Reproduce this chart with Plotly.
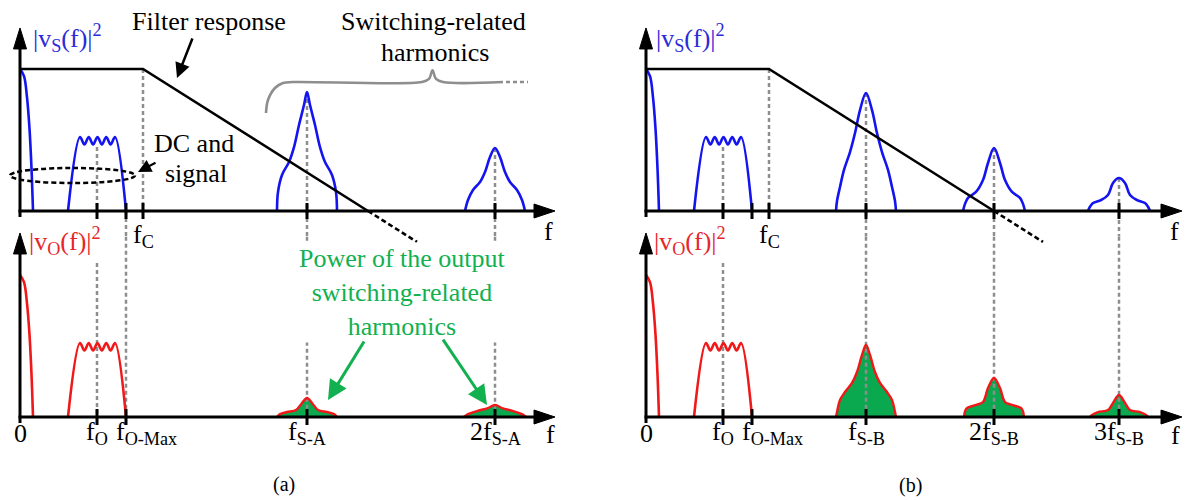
import plotly.graph_objects as go

# ---------------------------------------------------------------------------
# DATA  (schematic frequency units, normalised power |v(f)|^2)
# ---------------------------------------------------------------------------
# DC component (same in all four spectra)
dc_f = [0, 4, 7, 9.5, 11.5, 13]
dc_amp = [1.0, 0.95, 0.80, 0.58, 0.30, 0.0]

# signal band around f_O (same in all four spectra)
band_f = [48, 60, 64.4, 68.75, 73.1, 77.5, 81.9, 86.25, 90.6, 95, 106]
band_amp = [0, 0.521, 0.468, 0.521, 0.468, 0.521, 0.468, 0.521, 0.468, 0.521, 0]

# filter response (solid part and dashed extension)
filter_f = [0, 123, 348]
filter_amp = [1.0, 1.0, 0.0]
filter_ext_f = [348, 397]
filter_ext_amp = [0.0, -0.218]

# (a) input switching harmonics |vS(f)|^2
sA1_f = [257, 258, 262, 269, 274, 279, 284, 287, 290, 295, 300, 305, 312, 316, 317]
sA1_amp = [0, 0.134, 0.254, 0.345, 0.45, 0.606, 0.746, 0.838, 0.746, 0.606, 0.45, 0.345, 0.254, 0.134, 0]
sA2_f = [445, 448, 453, 460, 465, 470, 475, 480, 485, 490, 497, 502, 505]
sA2_amp = [0, 0.077, 0.148, 0.204, 0.275, 0.38, 0.444, 0.38, 0.275, 0.204, 0.148, 0.077, 0]
# (a) output switching harmonics |vO(f)|^2
oA1_f = [257, 260, 267, 276, 282, 287, 292, 298, 307, 314, 317]
oA1_amp = [0, 0.02, 0.035, 0.049, 0.099, 0.134, 0.099, 0.049, 0.035, 0.02, 0]
oA2_f = [444, 448, 457, 468, 475, 482, 493, 502, 506]
oA2_amp = [0, 0.02, 0.042, 0.063, 0.085, 0.063, 0.042, 0.02, 0]

# (b) input switching harmonics |vS(f)|^2
sB1_f = [190, 191, 194, 198, 204, 209, 214, 220, 226, 231, 236, 242, 246, 249, 250]
sB1_amp = [0, 0.07, 0.169, 0.289, 0.415, 0.549, 0.711, 0.831, 0.711, 0.549, 0.415, 0.289, 0.169, 0.07, 0]
sB2_f = [317, 319, 322, 330, 337, 342, 348, 354, 359, 366, 374, 377, 379]
sB2_amp = [0, 0.05, 0.092, 0.134, 0.218, 0.338, 0.444, 0.338, 0.218, 0.134, 0.092, 0.05, 0]
sB3_f = [442, 444, 447, 455, 462, 467, 473, 479, 484, 491, 499, 502, 504]
sB3_amp = [0, 0.03, 0.056, 0.077, 0.113, 0.197, 0.232, 0.197, 0.113, 0.077, 0.056, 0.03, 0]
# (b) output switching harmonics |vO(f)|^2
oB1_f = [190, 191, 194, 199, 206, 211, 216, 220, 224, 229, 234, 241, 246, 249, 250]
oB1_amp = [0, 0.035, 0.12, 0.176, 0.24, 0.317, 0.437, 0.507, 0.437, 0.317, 0.24, 0.176, 0.12, 0.035, 0]
oB2_f = [318, 319, 321, 330, 337, 342, 348, 354, 359, 366, 375, 377, 378]
oB2_amp = [0, 0.04, 0.063, 0.085, 0.106, 0.204, 0.275, 0.204, 0.106, 0.085, 0.063, 0.04, 0]
oB3_f = [444, 446, 452, 462, 467, 473, 479, 484, 494, 500, 502]
oB3_amp = [0, 0.015, 0.035, 0.049, 0.099, 0.155, 0.099, 0.049, 0.035, 0.015, 0]

# tick positions
ticks_top_a = [77, 106, 123, 287, 475]
ticks_bot_a = [77, 106, 287, 475]
ticks_top_b = [77, 106, 123, 220, 348, 473]
ticks_bot_b = [77, 106, 220, 348, 473]

# tick labels: (position, text)
labels_top_a = [(123, "f<sub>C</sub>")]
labels_bot_a = [(0, "0"), (77, "f<sub>O</sub>"), (106, "f<sub>O-Max</sub>"),
                (287, "f<sub>S-A</sub>"), (475, "2f<sub>S-A</sub>")]
labels_top_b = [(123, "f<sub>C</sub>")]
labels_bot_b = [(0, "0"), (77, "f<sub>O</sub>"), (106, "f<sub>O-Max</sub>"),
                (220, "f<sub>S-B</sub>"), (348, "2f<sub>S-B</sub>"), (473, "3f<sub>S-B</sub>")]

# gray dashed guides: (f, from, to); joins meet the other panel's guide
TOP_JOIN, BOTTOM_JOIN = -0.18, 1.27
guides_top_a = [(77, 0.45, 0), (123, 1.0, 0), (106, 0, TOP_JOIN), (287, 0.838, TOP_JOIN), (475, 0.444, TOP_JOIN)]
guides_bot_a = [(77, 1.085, 0), (106, BOTTOM_JOIN, 0), (287, BOTTOM_JOIN, 0), (475, BOTTOM_JOIN, 0)]
guides_top_b = [(77, 0.45, 0), (123, 1.0, 0), (220, 0.831, TOP_JOIN), (348, 0.444, TOP_JOIN), (473, 0.232, TOP_JOIN)]
guides_bot_b = [(77, 1.085, 0), (220, BOTTOM_JOIN, 0), (348, BOTTOM_JOIN, 0), (473, BOTTOM_JOIN, 0)]

# brace over the switching harmonics (panel a)
brace_f = [246, 248, 255, 263, 273, 402, 409, 412.5, 416, 423, 483]
brace_amp = [0.69, 0.782, 0.866, 0.901, 0.908, 0.908, 0.93, 0.99, 0.93, 0.908, 0.908]
brace_dash_f = [486, 508]
brace_dash_amp = [0.908, 0.908]

# dashed ellipse "DC and signal"
ellipse_f = [-10, 115]
ellipse_amp = [0.197, 0.303]

# ---------------------------------------------------------------------------
# STYLE
# ---------------------------------------------------------------------------
FONT = "Liberation Serif"
BLUE = "#1414f0"
BLUE_TXT = "#2b2bd9"
RED = "#f01818"
RED_TXT = "#e8262a"
GREEN = "#0aa84f"
GREEN_TXT = "#12b04f"
GRAY = "#8e8e8e"
BLACK = "#000000"
AMP_PER_PX = 1 / 142.0

PANELS = {"TL": ("x", "y"), "TR": ("x2", "y"), "BL": ("x", "y2"), "BR": ("x2", "y2")}
X_END = {"TL": 535, "BL": 535, "TR": 536, "BR": 536}
Y_TIP = {"TL": 1.289, "TR": 1.289, "BL": 1.296, "BR": 1.296}

fig = go.Figure()


def add(panel, **kw):
    xa, ya = PANELS[panel]
    fig.add_trace(go.Scatter(xaxis=xa, yaxis=ya, hoverinfo="skip", showlegend=False, **kw))


def line(panel, xs, ys, color, width, dash="solid", shape="linear"):
    add(panel, x=xs, y=ys, mode="lines",
        line=dict(color=color, width=width, dash=dash, shape=shape, smoothing=1.0))


# green filled output harmonics (fill only, outline later)
for panel, fs, am in [("BL", oA1_f, oA1_amp), ("BL", oA2_f, oA2_amp),
                      ("BR", oB1_f, oB1_amp), ("BR", oB2_f, oB2_amp), ("BR", oB3_f, oB3_amp)]:
    add(panel, x=fs, y=am, mode="lines", fill="toself", fillcolor=GREEN,
        line=dict(width=0, shape="spline", color=GREEN))

# gray dashed guides
for panel, guides in [("TL", guides_top_a), ("BL", guides_bot_a),
                      ("TR", guides_top_b), ("BR", guides_bot_b)]:
    xs, ys = [], []
    for f, a0, a1 in guides:
        xs += [f, f, None]
        ys += [a0, a1, None]
    line(panel, xs, ys, GRAY, 2.5, dash="4px,3px")

# low-frequency content
for panel, col in [("TL", BLUE), ("TR", BLUE), ("BL", RED), ("BR", RED)]:
    line(panel, dc_f, dc_amp, col, 2.6, shape="spline")
    line(panel, band_f, band_amp, col, 2.6, shape="spline")

# input harmonics
for panel, fs, am in [("TL", sA1_f, sA1_amp), ("TL", sA2_f, sA2_amp),
                      ("TR", sB1_f, sB1_amp), ("TR", sB2_f, sB2_amp), ("TR", sB3_f, sB3_amp)]:
    line(panel, fs, am, BLUE, 2.6, shape="spline")

# output harmonics outline
for panel, fs, am in [("BL", oA1_f, oA1_amp), ("BL", oA2_f, oA2_amp),
                      ("BR", oB1_f, oB1_amp), ("BR", oB2_f, oB2_amp), ("BR", oB3_f, oB3_amp)]:
    line(panel, fs, am, RED, 2.4, shape="spline")

# filter response
for panel in ["TL", "TR"]:
    line(panel, filter_f, filter_amp, BLACK, 2.6)
    line(panel, filter_ext_f, filter_ext_amp, BLACK, 2.6, dash="5px,3px")

# brace
line("TL", brace_f, brace_amp, GRAY, 2.6, shape="spline")
line("TL", brace_dash_f, brace_dash_amp, GRAY, 2.6, dash="4px,3px")

# axes with arrow heads and ticks
ARROW_LEN, ARROW_HALF = 21, 7  # px
for panel in PANELS:
    xe, yt = X_END[panel], Y_TIP[panel]
    line(panel, [-1.5, xe - ARROW_LEN + 2], [0, 0], BLACK, 3)
    line(panel, [0, 0], [-6 * AMP_PER_PX, yt - (ARROW_LEN - 2) * AMP_PER_PX], BLACK, 3)
    add(panel, x=[xe - ARROW_LEN, xe, xe - ARROW_LEN, xe - ARROW_LEN],
        y=[ARROW_HALF * AMP_PER_PX, 0, -ARROW_HALF * AMP_PER_PX, ARROW_HALF * AMP_PER_PX],
        mode="lines", fill="toself", fillcolor=BLACK, line=dict(color=BLACK, width=1))
    yb = yt - ARROW_LEN * AMP_PER_PX
    add(panel, x=[-6.5, 0, 6.5, -6.5], y=[yb, yt, yb, yb],
        mode="lines", fill="toself", fillcolor=BLACK, line=dict(color=BLACK, width=1))

for panel, ticks in [("TL", ticks_top_a), ("BL", ticks_bot_a), ("TR", ticks_top_b), ("BR", ticks_bot_b)]:
    xs, ys = [], []
    for t in ticks:
        xs += [t, t, None]
        ys += [-8 * AMP_PER_PX, 8 * AMP_PER_PX, None]
    line(panel, xs, ys, BLACK, 3)

# ---------------------------------------------------------------------------
# TEXT
# ---------------------------------------------------------------------------
anns = []


def text(panel, x, y, s, size=26, color=BLACK, **kw):
    xa, ya = PANELS[panel]
    d = dict(x=x, y=y, xref=xa, yref=ya, text=s, showarrow=False,
             font=dict(family=FONT, size=size, color=color))
    d.update(kw)
    anns.append(d)


def arrow(panel, tail, head, color=BLACK, width=2.5, size=1.2):
    xa, ya = PANELS[panel]
    anns.append(dict(x=head[0], y=head[1], ax=tail[0], ay=tail[1], xref=xa, yref=ya,
                     axref=xa, ayref=ya, text="", showarrow=True, arrowhead=2,
                     arrowsize=size, arrowwidth=width, arrowcolor=color, standoff=0))


for panel, labels, shift in [("TL", labels_top_a, -25), ("TR", labels_top_b, -25),
                             ("BL", labels_bot_a, -16), ("BR", labels_bot_b, -16)]:
    for pos, s in labels:
        xs = 20 if "Max" in s else 0
        text(panel, pos, 0, s, xshift=xs, yshift=shift)

text("TL", 528, 0, "f", yshift=-20)
text("TR", 528, 0, "f", yshift=-20)
text("BL", 530, 0, "f", yshift=-17)
text("BR", 529, 0, "f", yshift=-18)

text("TL", 11, 1.218, "|v<sub>S</sub>(f)|<sup>2</sup>", color=BLUE_TXT, xanchor="left")
text("TR", 8, 1.218, "|v<sub>S</sub>(f)|<sup>2</sup>", color=BLUE_TXT, xanchor="left")
text("BL", 7, 1.239, "|v<sub>O</sub>(f)|<sup>2</sup>", color=RED_TXT, xanchor="left")
text("BR", 6, 1.239, "|v<sub>O</sub>(f)|<sup>2</sup>", color=RED_TXT, xanchor="left")

text("TL", 188.5, 1.338, "Filter response")
arrow("TL", (173, 1.225), (157, 0.937))
text("TL", 413.5, 1.338, "Switching-related")
text("TL", 415, 1.113, "harmonics")
text("TL", 174, 0.472, "DC and")
text("TL", 176, 0.261, "signal")
arrow("TL", (137, 0.345), (118, 0.275), width=2.2, size=1.2)

text("BL", 382, 0.88, "Power of the output<br>switching-related<br>harmonics",
     color=GREEN_TXT, bgcolor="white", borderpad=1)
arrow("BL", (345, 0.542), (308, 0.12), color=GREEN_TXT, width=3, size=1.3)
arrow("BL", (422, 0.556), (467, 0.085), color=GREEN_TXT, width=3, size=1.3)

text("BL", 264, -0.472, "(a)", size=20)
text("BR", 264, -0.479, "(b)", size=20)

shapes = [dict(type="circle", xref="x", yref="y", x0=ellipse_f[0], x1=ellipse_f[1],
               y0=ellipse_amp[0], y1=ellipse_amp[1], line=dict(color=BLACK, width=2.5, dash="5px,3px"))]

hidden = dict(visible=False, showgrid=False, zeroline=False, fixedrange=True)
fig.update_layout(
    width=1192, height=500, autosize=False,
    margin=dict(l=0, r=0, t=0, b=0),
    paper_bgcolor="white", plot_bgcolor="rgba(0,0,0,0)",
    showlegend=False,
    font=dict(family=FONT),
    xaxis=dict(domain=[0, 600 / 1192], range=[-20, 580], anchor="y", **hidden),
    xaxis2=dict(domain=[600 / 1192, 1], range=[-46, 546], anchor="y", **hidden),
    yaxis=dict(domain=[0, 1], range=[(211 - 500) / 142, 211 / 142], anchor="x", **hidden),
    yaxis2=dict(domain=[0, 1], range=[(417 - 500) / 142, 417 / 142], anchor="x", **hidden),
    annotations=anns,
    shapes=shapes,
)

fig.write_html("out.html", config={"displayModeBar": False})
